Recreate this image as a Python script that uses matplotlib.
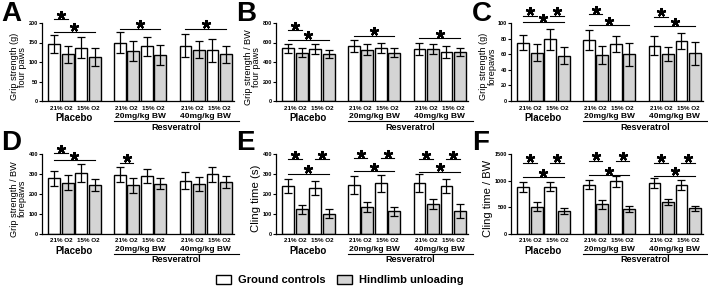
import numpy as np
import matplotlib.pyplot as plt
from matplotlib.patches import Patch
from matplotlib.transforms import offset_copy

plt.rcParams['font.family'] = ['Liberation Sans', 'DejaVu Sans']
plt.rcParams['font.weight'] = 'bold'

cond_labels = ['21% O2', '15% O2']
group_labels = ['Placebo', '20mg/kg BW', '40mg/kg BW']
drug_label = 'Resveratrol'
legend_labels = ['Ground controls', 'Hindlimb unloading']

# bar order in each group: GC 21%, HU 21%, GC 15%, HU 15%
a_mean = [145, 120, 136, 112, 150, 129, 140, 118, 142, 131, 130, 120]
a_err = [23, 22, 27, 23, 27, 26, 24, 25, 29, 22, 30, 22]
b_mean = [540, 495, 530, 480, 565, 525, 547, 495, 530, 535, 500, 505]
b_err = [45, 45, 50, 40, 60, 55, 52, 45, 60, 50, 60, 42]
c_mean = [75, 62, 79, 58, 78, 59, 73, 60, 71, 60, 77, 61]
c_err = [9, 11, 13, 11, 13, 11, 10, 15, 12, 9, 10, 15]
d_mean = [278, 256, 305, 243, 297, 243, 290, 252, 267, 248, 298, 259]
d_err = [36, 38, 43, 30, 38, 36, 37, 28, 44, 35, 38, 29]
e_mean = [240, 123, 230, 102, 247, 137, 253, 113, 255, 148, 240, 115]
e_err = [37, 22, 33, 21, 45, 25, 42, 22, 43, 25, 37, 35]
f_mean = [885, 515, 890, 436, 925, 555, 990, 470, 950, 600, 925, 480]
f_err = [95, 85, 85, 60, 90, 80, 100, 55, 95, 60, 95, 50]

# significance bars: (from bar, to bar, height)
a_sig = [(0, 1, 209), (0, 3, 178), (4, 7, 185), (8, 11, 185)]
b_sig = [(0, 1, 728), (0, 3, 626), (4, 7, 670), (8, 11, 646)]
c_sig = [(0, 1, 109), (2, 3, 109), (0, 3, 101), (4, 5, 111), (4, 7, 97),
         (8, 9, 108), (8, 11, 96)]
d_sig = [(0, 1, 404), (0, 3, 369), (4, 5, 357)]
e_sig = [(0, 1, 374), (2, 3, 374), (0, 3, 301), (4, 5, 379), (6, 7, 379),
         (4, 7, 313), (8, 9, 374), (10, 11, 374), (8, 11, 311)]
f_sig = [(0, 1, 1340), (2, 3, 1340), (0, 3, 1064), (4, 5, 1370), (6, 7, 1370),
         (4, 7, 1100), (8, 9, 1340), (10, 11, 1340), (8, 11, 1095)]

panels = [
    ('A', 'Grip strength (g)\nfour paws', a_mean, a_err, a_sig, [0, 50, 100, 150, 200], 6.6),
    ('B', 'Grip strength / BW\nfour paws', b_mean, b_err, b_sig, [0, 200, 400, 600, 800], 6.6),
    ('C', 'Grip strength (g)\nforepaws', c_mean, c_err, c_sig, [0, 20, 40, 60, 80, 100], 6.6),
    ('D', 'Grip strength / BW\nforepaws', d_mean, d_err, d_sig, [0, 100, 200, 300, 400], 6.6),
    ('E', 'Cling time (s)', e_mean, e_err, e_sig, [0, 100, 200, 300, 400], 8.2),
    ('F', 'Cling time / BW', f_mean, f_err, f_sig, [0, 500, 1000, 1500], 8.0),
]

fig = plt.figure(figsize=(7.08, 2.89), dpi=100)
W, H = 708, 289
lefts = [42, 276, 511]
rows = [(23, 101), (154, 234)]
letter_x = [1, 236, 472]
letter_y = [1, 130]

grey = '#d4d4d4'
gap = 4.85
xpos = np.array([g * gap + i for g in range(3) for i in range(4)])
colors = [('white' if i % 2 == 0 else grey) for i in range(12)]

def px(p):
    return p * 0.72

for k, (letter, ylab, mean, err, sig, yt, ysz) in enumerate(panels):
    r, c = divmod(k, 3)
    top, bot = rows[r]
    ax = fig.add_axes([lefts[c] / W, 1 - bot / H, 192 / W, (bot - top) / H])
    ax.bar(xpos, mean, width=0.86, color=colors, edgecolor='black', linewidth=1.0, zorder=2)
    ax.errorbar(xpos, mean, yerr=err, fmt='none', ecolor='black', elinewidth=0.9,
                capsize=2.8, capthick=0.9, zorder=3)
    ax.set_xlim(-0.9, 13.3)
    ax.set_ylim(0, yt[-1])
    ax.set_yticks(yt)
    ax.set_xticks([])
    ax.tick_params(axis='y', direction='out', length=2, width=0.8, labelsize=4, pad=0.8)
    for sp in ['top', 'right']:
        ax.spines[sp].set_visible(False)
    ax.spines['left'].set_linewidth(0.9)
    ax.spines['bottom'].set_linewidth(0.9)
    ax.set_ylabel(ylab, fontsize=ysz, labelpad=1, linespacing=0.9)
    ax.yaxis.label.set_y(0.44)

    star_tr = offset_copy(ax.transData, fig=fig, y=4.5, units='dots')
    for (i0, i1, h) in sig:
        ax.plot([xpos[i0], xpos[i1]], [h, h], color='black', lw=0.8, clip_on=False)
        ax.plot((xpos[i0] + xpos[i1]) / 2, h, marker=(5, 2, 0), markersize=6.5,
                mew=1.6, color='black', transform=star_tr, clip_on=False)

    tr = ax.get_xaxis_transform()
    for g in range(3):
        for j in range(2):
            xc = (xpos[g * 4 + 2 * j] + xpos[g * 4 + 2 * j + 1]) / 2
            ax.annotate(cond_labels[j], xy=(xc, 0), xycoords=tr, xytext=(0, px(-7)),
                        textcoords='offset points', ha='center', va='center', fontsize=4.5)
        xg = xpos[g * 4:g * 4 + 4].mean()
        off = -17 if g == 0 else -15.5
        fs = 7 if g == 0 else 6
        ax.annotate(group_labels[g], xy=(xg, 0), xycoords=tr, xytext=(0, px(off)),
                    textcoords='offset points', ha='center', va='center', fontsize=fs)
    ax.plot([4.4, 13.7], [-20 / (bot - top)] * 2, color='black', lw=0.8,
            transform=tr, clip_on=False)
    ax.annotate(drug_label, xy=((4.4 + 13.7) / 2, 0), xycoords=tr, xytext=(0, px(-26)),
                textcoords='offset points', ha='center', va='center', fontsize=6.5)

    fig.text(letter_x[c] / W, 1 - letter_y[r] / H, letter, ha='left', va='top',
             fontsize=20, fontweight='bold')

handles = [Patch(facecolor='white', edgecolor='black', linewidth=1.0),
           Patch(facecolor=grey, edgecolor='black', linewidth=1.0)]
fig.legend(handles, legend_labels, loc='center', bbox_to_anchor=(0.48, 0.03), ncol=2,
           frameon=False, fontsize=8, handlelength=1.4, handleheight=0.8,
           handletextpad=0.6, columnspacing=1.0)

fig.savefig('out.png', dpi=100)
